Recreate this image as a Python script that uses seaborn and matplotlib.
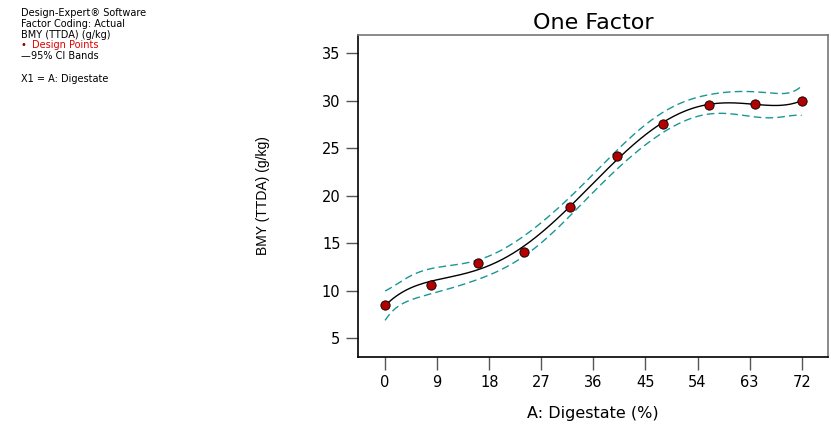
import numpy as np
import pandas as pd
import matplotlib
matplotlib.use("Agg")
import matplotlib.pyplot as plt
import seaborn as sns

# Data
digestate = [0, 8, 16, 24, 32, 40, 48, 56, 64, 72]
bmy = [8.5, 10.65, 12.95, 14.1, 18.85, 24.15, 27.55, 29.55, 29.7, 30.0]
x_ticks = [0, 9, 18, 27, 36, 45, 54, 63, 72]
y_ticks = [5, 10, 15, 20, 25, 30, 35]
poly_order = 5
t_975 = {1: 12.706, 2: 4.303, 3: 3.182, 4: 2.776, 5: 2.571, 6: 2.447, 7: 2.365}

sns.set_theme(style="white")
plt.rcParams['font.family'] = ['DejaVu Sans']
plt.rcParams['text.color'] = 'black'
plt.rcParams['axes.labelcolor'] = 'black'
plt.rcParams['xtick.labelcolor'] = 'black'
plt.rcParams['ytick.labelcolor'] = 'black'

# Polynomial model fit with analytical 95% CI
xs = np.array(digestate, float) / 72.0
ys = np.array(bmy, float)
X = np.vander(xs, poly_order + 1)
beta, *_ = np.linalg.lstsq(X, ys, rcond=None)
df_res = len(xs) - (poly_order + 1)
s2 = np.sum((ys - X @ beta) ** 2) / df_res
XtXi = np.linalg.inv(X.T @ X)
grid = np.linspace(0, 72, 300)
X0 = np.vander(grid / 72.0, poly_order + 1)
fit = X0 @ beta
se = np.sqrt(s2 * np.einsum('ij,jk,ik->i', X0, XtXi, X0))
tval = t_975[df_res]
curve = pd.DataFrame({"x": grid, "fit": fit, "lo": fit - tval * se, "hi": fit + tval * se})
pts = pd.DataFrame({"x": digestate, "y": bmy})

fig = plt.figure(figsize=(8.31, 4.30), dpi=100)
ax = fig.add_axes([0.4314, 0.1705, 0.5646, 0.7481])

teal = "#1a9696"
sns.lineplot(data=curve, x="x", y="lo", ax=ax, color=teal, lw=1.0, linestyle=(0, (5.5, 3)))
sns.lineplot(data=curve, x="x", y="hi", ax=ax, color=teal, lw=1.0, linestyle=(0, (5.5, 3)))
sns.lineplot(data=curve, x="x", y="fit", ax=ax, color="black", lw=1.0)
sns.scatterplot(data=pts, x="x", y="y", ax=ax, color="#b00000", edgecolor="black",
                linewidth=0.6, s=45, zorder=5, marker="o")

ax.set_xlim(-4.6, 76.5)
ax.set_ylim(3.06, 36.93)
ax.set_xticks(x_ticks)
ax.set_yticks(y_ticks)
ax.set_xticklabels([str(v) for v in x_ticks], fontsize=10.5)
ax.set_yticklabels([str(v) for v in y_ticks], fontsize=10.5)
ax.tick_params(axis="both", direction="out", length=9, width=1.0, color="#555555",
               labelcolor="black", bottom=True, left=True, pad=4)
for side in ["left", "bottom"]:
    ax.spines[side].set_color("black")
    ax.spines[side].set_linewidth(1.2)
for side in ["top", "right"]:
    ax.spines[side].set_color("#777777")
    ax.spines[side].set_linewidth(1.2)

ax.set_xlabel("A: Digestate (%)", fontsize=11.5, labelpad=12, color="black")
ax.set_ylabel("BMY (TTDA) (g/kg)", fontsize=10, labelpad=37, color="black",
              family=['Liberation Sans', 'DejaVu Sans'])
ax.set_title("One Factor", fontsize=16, pad=4, color="black")

fs = 7
x0 = 0.025
fig.text(x0, 0.970, "Design-Expert\u00ae Software", fontsize=fs, va="center")
fig.text(x0, 0.944, "Factor Coding: Actual", fontsize=fs, va="center")
fig.text(x0, 0.919, "BMY (TTDA) (g/kg)", fontsize=fs, va="center")
fig.text(x0, 0.895, "\u2022", fontsize=fs, va="center", color="#8b0000")
fig.text(0.038, 0.895, "Design Points", fontsize=fs, va="center", color="#e00000")
fig.text(x0, 0.870, "\u2014", fontsize=fs, va="center", color="black")
fig.text(0.037, 0.870, "95% CI Bands", fontsize=fs, va="center")
fig.text(x0, 0.816, "X1 = A: Digestate", fontsize=fs, va="center")

fig.savefig("out.png", dpi=100)
